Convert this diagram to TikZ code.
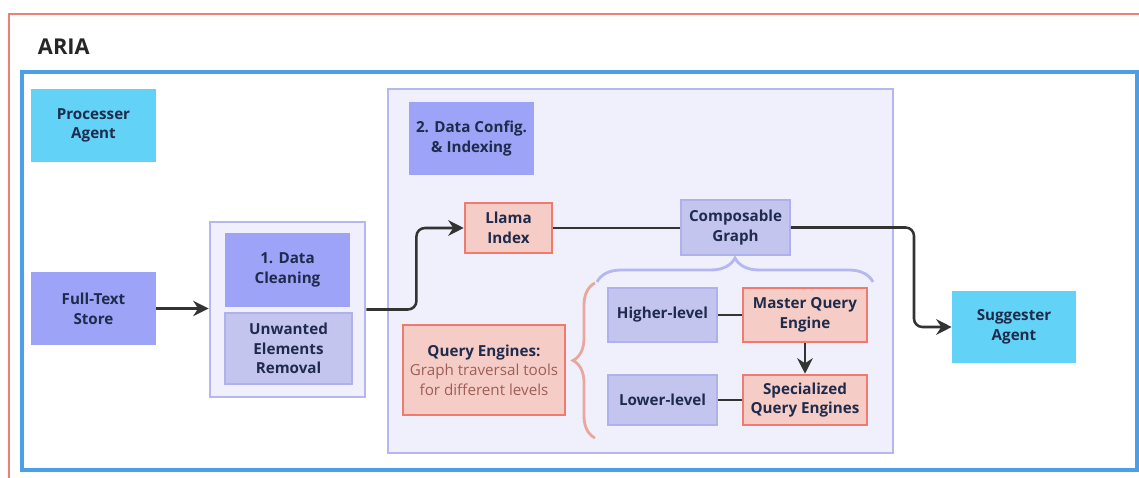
\documentclass[tikz,border=0pt]{standalone}
\usepackage{fontspec}
\setmainfont{Open Sans}
\usetikzlibrary{arrows.meta,decorations.pathreplacing}
\newlength\px
\setlength\px{0.025cm}
\definecolor{framered}{HTML}{EE8078}
\definecolor{frameblue}{HTML}{4A9FE6}
\definecolor{agentc}{HTML}{62D3F7}
\definecolor{storec}{HTML}{9DA3F7}
\definecolor{subc}{HTML}{C3C5EE}
\definecolor{subd}{HTML}{AEB1EC}
\definecolor{grpf}{HTML}{EFF0FB}
\definecolor{grpd}{HTML}{B4B7F0}
\definecolor{qefill}{HTML}{F6CDC6}
\definecolor{qedraw}{HTML}{F07A6E}
\definecolor{qetext}{HTML}{9C5F58}
\definecolor{bracered}{HTML}{E8A8A0}
\definecolor{ink}{HTML}{1F2B4C}
\definecolor{linec}{HTML}{333333}
\newcommand\qeline[1]{\textcolor{qetext}{\mdseries #1}}
\tikzset{
  blk/.style={align=center, inner sep=0pt, text=ink,
    font=\fontsize{10.8}{14}\selectfont\bfseries},
  agent/.style={blk, fill=agentc},
  store/.style={blk, fill=storec},
  sub/.style={blk, fill=subc, draw=subd, line width=1.4pt},
  qe/.style={blk, fill=qefill, draw=qedraw, line width=1.8pt},
  grp/.style={draw=grpd, fill=grpf, line width=2pt, inner sep=0pt},
  link/.style={draw=linec, line width=1.8pt, rounded corners=6pt},
  arr/.style={link, -{Stealth[length=11pt,width=11pt]}},
}
\begin{document}
\begin{tikzpicture}[x=0.025cm,y=-0.025cm]
    \useasboundingbox (0,0) rectangle (1139,478);
    %% frames
    \draw[framered, line width=1.8pt] (1139,14) -- (9,14) -- (9,478);
    \node[anchor=west, font=\fontsize{15.5}{18}\selectfont\bfseries, text=black!85] (aria) at (33,47) {ARIA};
    \draw[frameblue, line width=2.5pt] (22,72) rectangle (1137,470);
    %% groups
    \node[grp, minimum width=155\px, minimum height=175\px] (cleangrp) at (287.5,309.5) {};
    \node[grp, minimum width=505\px, minimum height=364\px] (configgrp) at (640.5,271) {};
    %% agents and store
    \node[agent, minimum width=125\px, minimum height=73\px] (processer) at (93.5,125.5) {Processer\\Agent};
    \node[store, minimum width=125\px, minimum height=73\px] (fulltext) at (93.5,308.5) {Full-Text\\Store};
    \node[agent, minimum width=124\px, minimum height=72\px] (suggester) at (1014,327) {Suggester\\Agent};
    %% cleaning
    \node[store, minimum width=125\px, minimum height=74\px] (clean) at (287.5,270) {1. Data\\Cleaning};
    \node[sub, minimum width=127\px, minimum height=71\px] (unwanted) at (288.5,348.5) {Unwanted\\Elements\\Removal};
    %% config and indexing
    \node[store, minimum width=125\px, minimum height=73\px] (config) at (471.5,138.5) {2. Data Config.\\\& Indexing};
    \node[qe, minimum width=87\px, minimum height=50\px] (llama) at (508.5,228) {Llama\\Index};
    \node[sub, minimum width=109\px, minimum height=55\px] (compose) at (735.5,227.5) {Composable\\Graph};
    \node[qe, minimum width=162\px, minimum height=90\px] (queryeng) at (484,370)
        {Query Engines:\\\qeline{Graph traversal tools}\\\qeline{for different levels}};
    %% levels
    \node[sub, minimum width=109\px, minimum height=54\px] (higher) at (662.5,315) {Higher-level};
    \node[qe, minimum width=124\px, minimum height=54\px] (master) at (805,315) {Master Query\\Engine};
    \node[sub, minimum width=109\px, minimum height=50\px] (lower) at (662.5,400) {Lower-level};
    \node[qe, minimum width=124\px, minimum height=50\px] (special) at (805,400) {Specialized\\Query Engines};
    %% braces
    \draw[grpd, line width=2pt, decorate, decoration={brace, amplitude=0.6cm}] (597,282) -- (873,282);
    \draw[bracered, line width=2pt, decorate, decoration={brace, amplitude=0.55cm}] (595,438) -- (595,283);
    %% connectors
    \draw[arr] (fulltext.east) -- (fulltext.east -| cleangrp.west);
    \draw[arr] (cleangrp.east) -- ++(50,0) |- (llama.west);
    \draw[link] (llama.east) -- (llama.east -| compose.west);
    \draw[arr] (compose.east) -- ++(123,0) |- (suggester.west);
    \draw[link] (higher) -- (master);
    \draw[link] (lower) -- (special);
    \draw[arr] (master) -- (special);
\end{tikzpicture}
\end{document}
